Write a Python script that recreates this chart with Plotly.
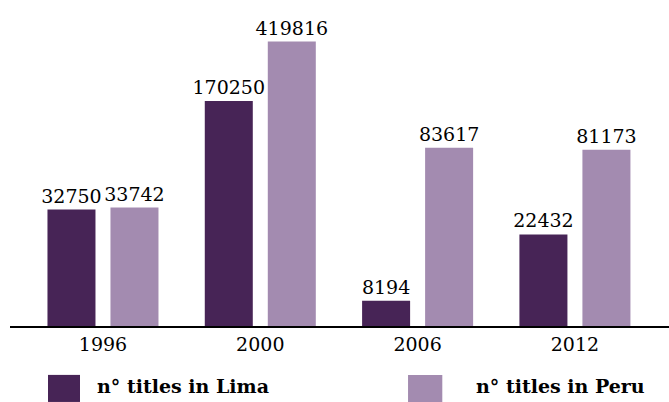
import plotly.graph_objects as go

years = ["1996", "2000", "2006", "2012"]
lima_titles = [32750, 170250, 8194, 22432]
peru_titles = [33742, 419816, 83617, 81173]
series_names = ["n° titles in Lima", "n° titles in Peru"]

FONT = "DejaVu Serif"
LIMA_COLOR = "#472456"
PERU_COLOR = "#a38bb0"

fig = go.Figure()
fig.add_trace(go.Bar(
    x=years, y=lima_titles, name=series_names[0],
    marker=dict(color=LIMA_COLOR, line=dict(width=0)),
    text=[str(v) for v in lima_titles], textposition="outside",
    textfont=dict(family=FONT, size=19, color="black"),
    constraintext="none", cliponaxis=False, showlegend=False,
))
fig.add_trace(go.Bar(
    x=years, y=peru_titles, name=series_names[1],
    marker=dict(color=PERU_COLOR, line=dict(width=0)),
    text=[str(v) for v in peru_titles], textposition="outside",
    textfont=dict(family=FONT, size=19, color="black"),
    constraintext="none", cliponaxis=False, showlegend=False,
))

# legend drawn as squares + bold labels
legend_items = [
    (LIMA_COLOR, 0.0577, 0.1062, 0.129, series_names[0]),
    (PERU_COLOR, 0.604, 0.656, 0.704, series_names[1]),
]
shapes = []
annotations = []
for color, x0, x1, tx, label in legend_items:
    shapes.append(dict(type="rect", xref="paper", yref="paper",
                       x0=x0, x1=x1, y0=-0.233, y1=-0.150,
                       fillcolor=color, line=dict(width=0)))
    annotations.append(dict(xref="paper", yref="paper", x=tx, y=-0.185,
                            xanchor="left", yanchor="middle", showarrow=False,
                            text="<b>" + label + "</b>",
                            font=dict(family=FONT, size=19, color="black")))

fig.update_layout(
    width=669, height=402,
    margin=dict(l=10, r=0, t=0, b=76),
    paper_bgcolor="white", plot_bgcolor="white",
    barmode="group", bargap=0.199, bargroupgap=0.238,
    showlegend=False,
    shapes=shapes, annotations=annotations,
    xaxis=dict(type="category", range=[-0.591, 3.598], showline=True,
               linecolor="black", linewidth=1.5, ticks="", showgrid=False,
               zeroline=False,
               tickfont=dict(family=FONT, size=19, color="black")),
    yaxis=dict(type="log", range=[3.747, 5.897], visible=False,
               showgrid=False, zeroline=False),
)

fig.write_html("out.html", config={"displayModeBar": False},
               post_script="document.body.style.margin='0';document.body.style.overflow='hidden';")
